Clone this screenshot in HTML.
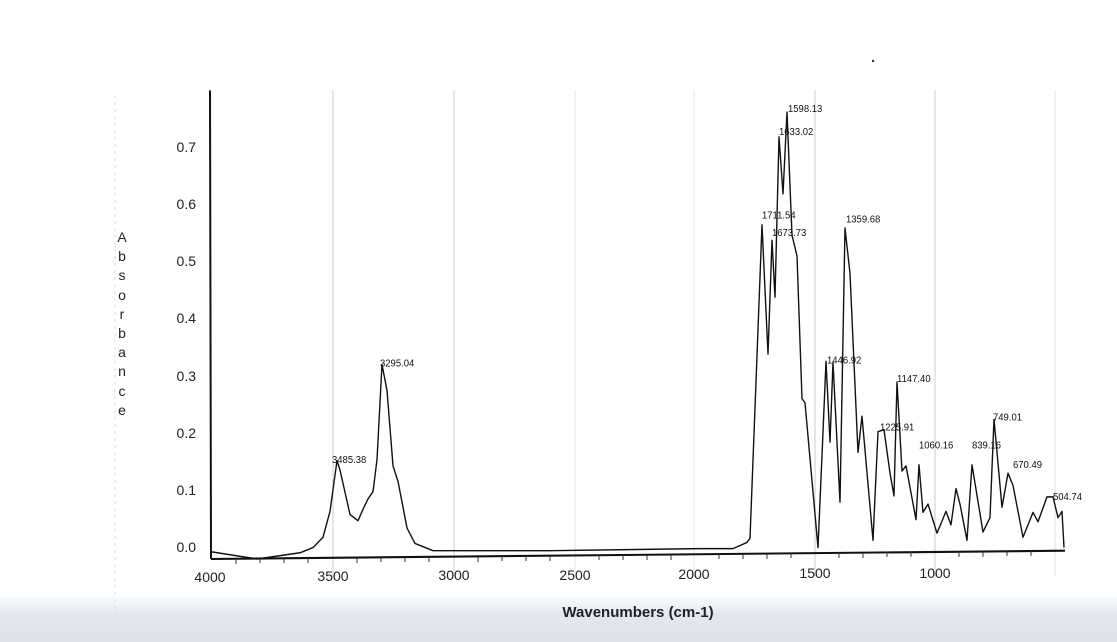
<!DOCTYPE html>
<html><head><style>
html,body{margin:0;padding:0;background:#fff;}
body{width:1117px;height:642px;overflow:hidden;position:relative;font-family:"Liberation Sans",sans-serif;}
.band{position:absolute;left:0;top:597px;width:1117px;height:45px;background:linear-gradient(#fafbfc,#e3e7ee 40%,#dde2ea);}
</style></head><body>
<div class="band"></div>
<svg width="1117" height="642" style="position:absolute;left:0;top:0" font-family="Liberation Sans, sans-serif">
<line x1="115" y1="95" x2="115" y2="620" stroke="#ddd" stroke-dasharray="3,4"/>
<g transform="translate(0,80) scale(1,1.0345) translate(0,-80)">
<g stroke="#ccc" stroke-width="1">
<line x1="333" y1="90" x2="333" y2="560"/><line x1="454" y1="90" x2="454" y2="560"/>
<line x1="575" y1="90" x2="575" y2="560" stroke="#e6e6e6"/><line x1="694" y1="90" x2="694" y2="560" stroke="#e6e6e6"/>
<line x1="815" y1="90" x2="815" y2="560"/><line x1="935" y1="90" x2="935" y2="560"/>
<line x1="1055" y1="90" x2="1055" y2="560" stroke="#e0e0e0"/>
</g>
<line x1="210" y1="90" x2="211" y2="543" stroke="#111" stroke-width="2"/>
<line x1="211" y1="543" x2="1065" y2="535" stroke="#111" stroke-width="2"/>
<g stroke="#333" stroke-width="1">
<line x1="236" y1="543" x2="236" y2="548"/><line x1="260" y1="542" x2="260" y2="547"/><line x1="284" y1="542" x2="284" y2="547"/><line x1="308" y1="542" x2="308" y2="547"/>
<line x1="357" y1="542" x2="357" y2="547"/><line x1="381" y1="541" x2="381" y2="546"/><line x1="405" y1="541" x2="405" y2="546"/><line x1="429" y1="541" x2="429" y2="546"/>
<line x1="478" y1="541" x2="478" y2="546"/><line x1="502" y1="540" x2="502" y2="545"/><line x1="526" y1="540" x2="526" y2="545"/><line x1="550" y1="540" x2="550" y2="545"/>
<line x1="599" y1="539" x2="599" y2="544"/><line x1="623" y1="539" x2="623" y2="544"/><line x1="647" y1="539" x2="647" y2="544"/><line x1="671" y1="539" x2="671" y2="544"/>
<line x1="719" y1="538" x2="719" y2="543"/><line x1="743" y1="538" x2="743" y2="543"/><line x1="767" y1="538" x2="767" y2="543"/><line x1="791" y1="537" x2="791" y2="542"/>
<line x1="839" y1="537" x2="839" y2="542"/><line x1="863" y1="537" x2="863" y2="542"/><line x1="887" y1="536" x2="887" y2="541"/><line x1="911" y1="536" x2="911" y2="541"/>
<line x1="959" y1="536" x2="959" y2="541"/><line x1="983" y1="536" x2="983" y2="541"/><line x1="1007" y1="535" x2="1007" y2="540"/><line x1="1031" y1="535" x2="1031" y2="540"/>
</g>
<polyline fill="none" stroke="#111" stroke-width="1.4" stroke-linejoin="round" points="211,536 257,543 300,537 313,532 323,522 330,497 337,448 340,457 350,500 358,506 363,495 368,485 373,478 377,447 382,355 387,380 393,453 398,468 407,513 415,528 433,535 550,535 700,533 733,533 747,527 750,523 755,397 762,220 768,345 772,235 775,290 779,135 783,190 787,111 792,230 797,250 802,388 805,392 818,532 822,443 826,352 830,430 833,353 840,488 845,223 850,267 858,440 862,405 873,525 878,420 884,418 890,460 894,482 897,372 902,458 906,453 916,505 919,452 923,498 928,490 937,518 946,497 951,510 956,475 960,490 967,525 972,452 983,517 990,503 994,408 1002,493 1008,460 1013,472 1023,522 1033,498 1038,507 1047,483 1053,483 1058,503 1062,497 1064,532"/>
<g font-size="9.5" fill="#111">
<text x="788" y="111">1598.13</text><text x="779" y="133">1633.02</text><text x="762" y="214">1711.54</text><text x="772" y="231">1673.73</text>
<text x="846" y="218">1359.68</text><text x="827" y="354">1446.92</text><text x="897" y="372">1147.40</text><text x="880" y="419">1225.91</text>
<text x="919" y="436">1060.16</text><text x="972" y="436">839.16</text><text x="993" y="409">749.01</text><text x="1013" y="455">670.49</text>
<text x="1053" y="486">504.74</text><text x="380" y="357">3295.04</text><text x="332" y="450">3485.38</text>
</g>
</g>
<g font-size="14" fill="#222" text-anchor="end">
<text x="196" y="152">0.7</text><text x="196" y="209">0.6</text><text x="196" y="266">0.5</text><text x="196" y="323">0.4</text>
<text x="196" y="381">0.3</text><text x="196" y="438">0.2</text><text x="196" y="495">0.1</text><text x="196" y="552">0.0</text>
</g>
<g font-size="14" fill="#222" text-anchor="middle">
<text x="210" y="582">4000</text><text x="333" y="581">3500</text><text x="454" y="580">3000</text><text x="575" y="580">2500</text>
<text x="694" y="579">2000</text><text x="815" y="578">1500</text><text x="935" y="578">1000</text>
<text x="638" y="617" font-weight="bold" font-size="15">Wavenumbers (cm-1)</text>
</g>
<g font-size="14" fill="#222" text-anchor="middle">
<text x="122" y="242">A</text><text x="122" y="261">b</text><text x="122" y="280">s</text><text x="122" y="300">o</text><text x="122" y="319">r</text>
<text x="122" y="338">b</text><text x="122" y="357">a</text><text x="122" y="376">n</text><text x="122" y="396">c</text><text x="122" y="415">e</text>
</g>
<circle cx="873" cy="61" r="1.2" fill="#333"/>
</svg>
</body></html>
